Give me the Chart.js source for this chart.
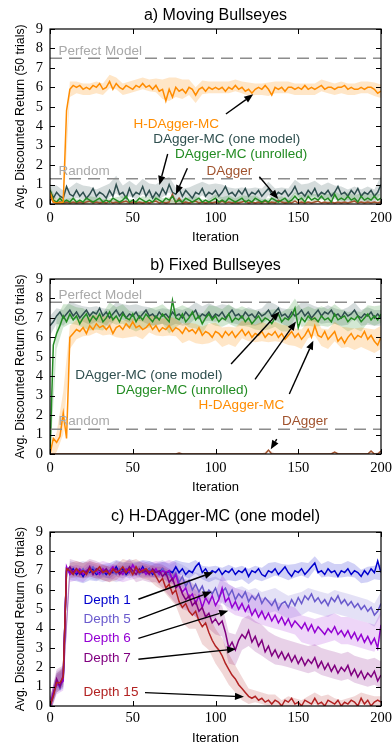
<!DOCTYPE html>
<html><head><meta charset="utf-8">
<script src="https://cdn.jsdelivr.net/npm/chart.js@4"></script>
<style>
html,body{margin:0;padding:0;background:#fff;overflow:hidden;width:392px;height:746px}
.p{position:absolute;left:0;width:392px}
</style></head><body>
<div class="p" style="top:0;height:250px"><canvas id="ca" width="392" height="250"></canvas></div>
<div class="p" style="top:250px;height:250px"><canvas id="cb" width="392" height="250"></canvas></div>
<div class="p" style="top:500px;height:246px"><canvas id="cc" width="392" height="246"></canvas></div>
<script>
// ---------- categories / ticks ----------
const iters = Array.from({length: 101}, (_, i) => 2 * i);      // iteration of each value
const bandIters = Array.from({length: 51}, (_, i) => 4 * i);   // iteration of each spread value
const xTicks = [0, 50, 100, 150, 200];
const yTicks = [0, 1, 2, 3, 4, 5, 6, 7, 8, 9];

// ---------- a) Moving Bullseyes ----------
const A_HD = [0.6,0.1,0.05,0.05,0.1,4.8,5.9,6.1,6.0,6.1,
5.9,6.0,5.9,6.1,6.0,6.2,5.9,6.0,6.3,5.9,
6.2,6.0,5.9,6.1,6.0,5.9,6.1,6.0,6.2,6.0,
6.1,5.9,6.1,5.8,5.9,5.3,5.9,5.5,6.0,5.8,
5.9,5.7,6.0,5.9,5.6,5.9,6.0,5.8,6.0,5.9,
6.0,5.9,6.0,5.8,6.0,5.9,6.1,5.9,6.0,5.8,
5.9,5.7,5.9,6.0,5.9,6.1,5.9,5.6,6.0,5.9,
6.0,5.8,6.0,6.0,5.9,6.0,5.9,6.1,5.9,6.0,
5.9,6.0,6.1,5.9,6.0,6.0,5.9,6.0,6.0,6.1,
5.9,6.0,5.9,5.9,6.0,5.9,6.0,6.0,5.9,5.7,
5.8];
const A_OM = [0.7,0.3,0.6,0.4,0.3,0.9,0.5,0.4,0.7,0.4,
0.6,0.3,0.5,0.8,0.4,0.6,0.5,0.3,0.7,0.4,
1.0,0.5,0.6,0.3,0.8,0.4,0.6,0.5,0.9,0.4,
0.7,0.3,0.6,0.4,0.8,0.5,1.0,0.6,0.5,0.8,
0.4,0.7,0.5,0.3,0.6,0.5,0.8,0.4,0.6,0.5,
0.7,0.4,0.6,0.9,0.5,0.6,0.4,0.7,0.5,0.8,
0.4,0.6,0.5,0.7,0.4,0.6,0.8,0.5,0.4,0.6,
0.5,0.7,0.4,0.6,0.9,0.5,0.6,0.4,0.7,0.5,
0.8,0.4,0.6,0.5,0.7,0.4,0.6,0.9,0.5,0.6,
0.4,0.7,0.5,0.8,0.4,0.6,0.5,0.7,0.4,0.6,
1.0];
const A_UR = [0.7,0.2,0.1,0.3,0.1,0.2,0.1,0.3,0.1,0.2,
0.1,0.3,0.2,0.1,0.2,0.3,0.1,0.2,0.1,0.3,
0.2,0.1,0.2,0.4,0.1,0.2,0.1,0.3,0.2,0.1,
0.2,0.1,0.3,0.2,0.1,0.3,0.2,0.4,0.1,0.2,
0.1,0.3,0.2,0.1,0.2,0.3,0.1,0.2,0.1,0.2,
0.3,0.1,0.2,0.1,0.3,0.2,0.1,0.2,0.3,0.1,
0.2,0.1,0.3,0.2,0.1,0.2,0.1,0.3,0.2,0.1,
0.2,0.3,0.1,0.2,0.4,0.2,0.3,0.1,0.4,0.2,
0.3,0.2,0.4,0.2,0.3,0.1,0.5,0.2,0.3,0.2,
0.4,0.2,0.3,0.1,0.4,0.2,0.3,0.2,0.4,0.2,
0.3];
const A_DG = [0.4,0.1,0.05,0.1,0.05,0.1,0.05,0.1,0.05,0.1,
0.05,0.1,0.15,0.05,0.1,0.05,0.1,0.05,0.15,0.05,
0.1,0.05,0.1,0.15,0.05,0.1,0.05,0.1,0.05,0.1,
0.05,0.1,0.15,0.05,0.1,0.05,0.1,0.5,0.05,0.3,
0.05,0.1,0.05,0.1,0.15,0.05,0.1,0.05,0.1,0.05,
0.1,0.05,0.15,0.05,0.1,0.05,0.1,0.05,0.1,0.15,
0.05,0.1,0.05,0.1,0.05,0.15,0.05,0.1,0.05,0.2,
0.1,0.05,0.1,0.05,0.15,0.05,0.1,0.05,0.1,0.05,
0.1,0.15,0.05,0.1,0.05,0.1,0.05,0.1,0.05,0.1,
0.05,0.1,0.15,0.05,0.1,0.05,0.1,0.05,0.1,0.05,
0.1];
const A_HD_sd = [0.2,0.1,0.4,0.4,0.3,0.3,0.3,0.3,0.3,0.35,
0.3,0.3,0.3,0.3,0.3,0.3,0.35,0.5,0.6,0.5,
0.5,0.4,0.4,0.35,0.3,0.3,0.3,0.3,0.3,0.3,
0.35,0.3,0.3,0.35,0.3,0.3,0.3,0.3,0.3,0.3,
0.3,0.3,0.3,0.3,0.3,0.3,0.3,0.3,0.3,0.35,
0.35];
const A_OM_sd = [0.3,0.35,0.4,0.35,0.4,0.35,0.4,0.35,0.4,0.35,
0.45,0.35,0.4,0.35,0.4,0.35,0.4,0.45,0.4,0.35,
0.4,0.35,0.4,0.35,0.4,0.35,0.4,0.35,0.4,0.35,
0.4,0.35,0.4,0.35,0.4,0.35,0.4,0.35,0.4,0.35,
0.4,0.35,0.4,0.35,0.4,0.35,0.4,0.35,0.4,0.35,
0.45];
const A_UR_sd = [0.2,0.15,0.15,0.2,0.15,0.15,0.2,0.15,0.15,0.2,
0.15,0.2,0.15,0.15,0.2,0.15,0.15,0.2,0.15,0.2,
0.15,0.15,0.2,0.15,0.15,0.2,0.15,0.15,0.2,0.15,
0.2,0.15,0.15,0.2,0.15,0.2,0.15,0.2,0.15,0.15,
0.2,0.15,0.2,0.15,0.15,0.2,0.15,0.15,0.2,0.15,
0.2];
const A_DG_sd = [0.1,0.05,0.1,0.05,0.1,0.05,0.1,0.05,0.1,0.05,
0.1,0.05,0.1,0.05,0.1,0.05,0.1,0.05,0.15,0.1,
0.1,0.05,0.1,0.05,0.1,0.05,0.1,0.05,0.1,0.05,
0.1,0.05,0.1,0.05,0.1,0.05,0.1,0.05,0.1,0.05,
0.1,0.05,0.1,0.05,0.1,0.05,0.1,0.05,0.1,0.05,
0.1];

// ---------- b) Fixed Bullseyes ----------
const B_OM = [6.6,6.8,7.1,7.3,7.0,7.2,7.4,7.1,7.3,7.0,
7.2,7.4,7.1,7.3,7.2,7.5,7.1,7.3,7.0,7.2,
7.4,7.1,7.3,7.0,7.2,7.1,7.3,7.0,7.2,7.4,
7.1,7.2,7.0,7.3,7.1,7.2,7.0,7.3,7.1,7.2,
7.0,7.3,7.1,7.2,7.4,7.0,7.2,7.1,7.3,7.0,
7.2,7.1,7.3,7.0,7.2,7.4,7.1,7.2,7.0,7.3,
7.1,7.2,7.0,7.3,7.1,7.2,7.4,7.1,7.3,7.5,
7.1,7.2,7.0,7.3,7.1,7.2,7.4,7.1,7.3,7.0,
7.2,7.4,7.1,7.3,7.2,7.4,7.1,7.2,7.0,7.3,
7.1,7.2,7.4,7.1,7.0,7.2,7.1,7.3,7.0,7.2,
7.0];
const B_UR = [0.0,5.6,6.2,6.6,7.1,6.8,7.2,6.9,7.1,6.7,
7.0,7.2,6.8,7.1,6.9,7.2,6.8,7.0,7.3,6.9,
7.1,6.8,7.2,7.0,6.9,7.2,6.8,7.1,6.9,7.2,
7.0,6.8,7.1,6.9,7.2,7.0,6.8,7.9,7.0,6.9,
7.2,6.8,7.0,7.3,6.9,7.1,6.7,7.0,7.2,6.9,
7.1,6.8,7.0,6.9,7.2,6.8,7.0,6.9,7.1,6.8,
7.0,6.7,6.9,7.1,6.8,7.0,6.9,6.7,7.0,7.2,
6.8,7.0,6.9,7.1,7.5,6.5,7.0,6.8,7.1,6.9,
7.0,6.8,7.1,6.9,7.0,6.8,7.2,6.9,7.0,7.1,
6.8,7.0,6.9,7.1,6.8,7.0,7.2,6.9,7.1,6.9,
7.2];
const B_HD = [0.0,0.8,0.6,0.9,2.1,0.8,6.0,6.2,6.4,6.3,
6.5,6.2,6.6,6.4,6.7,6.5,6.6,6.4,6.6,6.2,
6.5,6.6,6.4,6.7,6.5,6.8,6.5,6.6,6.4,6.5,
6.7,6.4,6.6,6.3,6.5,6.4,6.6,6.3,6.5,6.4,
6.2,6.5,6.3,6.4,6.2,6.5,6.1,6.3,6.2,6.0,
6.3,6.2,6.0,6.3,6.1,6.3,6.0,6.2,6.4,6.1,
6.3,6.0,6.2,6.1,6.3,6.0,6.2,6.1,6.3,6.0,
6.2,5.9,6.1,6.3,6.0,6.2,5.9,6.1,6.4,6.0,
6.6,6.1,6.0,6.3,5.9,6.1,6.3,5.8,6.0,5.7,
6.0,6.2,5.9,6.1,6.0,6.3,5.9,6.1,5.8,5.6,
6.0];
const B_DG = [0,0,0,0,0,0,0,0,0,0,
0,0,0,0,0,0,0,0,0,0,
0,0,0,0,0,0,0,0,0,0,
0,0,0,0,0,0,0,0,0,0.05,
0,0,0,0,0,0,0,0,0,0,
0,0,0,0,0,0,0,0,0,0,
0,0,0,0,0,0,0.2,0,0,0,
0,0,0,0,0,0,0,0,0,0,
0,0,0,0,0,0,0.1,0,0,0,
0,0,0,0,0,0,0,0.15,0,0,
0.15];
const B_OM_sd = [0.5,0.4,0.4,0.45,0.4,0.4,0.45,0.4,0.4,0.45,
0.4,0.4,0.45,0.4,0.4,0.45,0.4,0.4,0.45,0.4,
0.4,0.45,0.4,0.4,0.45,0.4,0.4,0.45,0.4,0.4,
0.45,0.4,0.4,0.45,0.4,0.4,0.45,0.4,0.4,0.45,
0.4,0.4,0.45,0.4,0.4,0.45,0.4,0.4,0.45,0.4,
0.4];
const B_UR_sd = [0.3,0.8,0.6,0.5,0.45,0.5,0.45,0.5,0.45,0.5,
0.45,0.5,0.45,0.5,0.45,0.5,0.45,0.5,0.6,0.5,
0.45,0.5,0.45,0.5,0.45,0.5,0.45,0.5,0.45,0.5,
0.45,0.5,0.45,0.5,0.45,0.5,0.6,0.5,0.45,0.5,
0.45,0.5,0.45,0.5,0.45,0.5,0.45,0.5,0.45,0.5,
0.45];
const B_HD_sd = [0.3,0.5,1.1,0.6,0.5,0.45,0.5,0.45,0.5,0.45,
0.5,0.45,0.5,0.45,0.5,0.45,0.5,0.45,0.5,0.45,
0.5,0.45,0.5,0.45,0.5,0.45,0.5,0.45,0.5,0.45,
0.5,0.45,0.5,0.45,0.5,0.45,0.5,0.45,0.5,0.45,
0.5,0.45,0.5,0.5,0.55,0.5,0.55,0.5,0.55,0.6,
0.6];
const B_DG_sd = [0.02,0.02,0.02,0.02,0.02,0.02,0.02,0.02,0.02,0.02,
0.02,0.02,0.02,0.02,0.02,0.02,0.02,0.02,0.02,0.02,
0.02,0.02,0.02,0.02,0.02,0.02,0.02,0.02,0.02,0.02,
0.02,0.02,0.02,0.02,0.02,0.02,0.02,0.02,0.02,0.02,
0.02,0.02,0.02,0.02,0.02,0.02,0.02,0.02,0.02,0.02,
0.02];

// ---------- c) H-DAgger-MC (one model) ----------
const C_D1 = [0.0,0.6,1.2,1.0,1.4,7.1,6.9,7.1,6.8,7.0,
6.7,7.0,6.9,7.1,6.8,6.9,7.0,6.8,7.0,6.9,
7.2,6.9,7.1,6.8,7.0,6.9,7.1,6.9,7.2,6.9,
7.1,6.8,7.0,6.9,7.1,6.8,7.0,6.9,7.2,6.9,
7.1,6.8,7.0,6.9,7.2,7.4,6.9,7.1,6.8,7.0,
6.9,7.1,6.8,7.0,6.9,7.1,6.8,7.0,6.9,7.1,
6.7,7.0,6.9,7.1,6.8,6.7,7.0,6.9,7.1,6.8,
7.0,7.2,6.9,6.7,7.0,6.9,7.1,6.8,7.0,7.2,
7.4,6.9,7.0,6.8,7.1,6.9,7.0,6.7,7.0,6.9,
7.1,6.8,7.0,6.9,6.7,7.0,6.8,7.1,6.9,7.5,
6.9];
const C_D5 = [0.0,0.5,1.3,0.9,1.5,7.0,7.1,6.8,7.0,6.9,
7.1,6.8,7.0,7.2,6.9,7.0,6.8,7.1,6.9,7.0,
6.8,7.1,6.9,7.0,7.2,6.9,7.1,6.8,7.0,6.9,
7.1,6.9,7.0,6.8,7.1,6.9,6.8,6.6,6.9,6.4,
6.7,6.2,6.5,6.0,6.3,5.9,6.2,5.7,6.0,5.8,
6.1,5.6,5.9,6.1,5.7,6.0,5.5,5.8,5.6,5.9,
5.4,5.7,5.5,5.8,5.3,5.6,5.4,5.2,5.5,5.0,
5.3,5.4,5.1,5.5,5.2,5.6,5.3,5.7,5.5,5.8,
5.4,5.6,5.3,5.5,5.2,5.6,5.4,5.7,5.3,5.5,
5.2,5.4,5.1,5.3,5.0,5.2,4.9,5.1,4.7,4.9,
5.3];
const C_D6 = [0.0,0.7,1.1,1.1,1.3,7.2,6.8,7.0,6.9,7.1,
6.8,7.0,7.1,6.9,7.0,6.8,7.1,6.9,7.0,7.2,
6.9,7.0,6.8,7.1,6.9,7.3,7.0,6.9,7.1,6.8,
7.0,6.9,7.1,6.8,7.0,6.9,7.0,6.5,6.8,6.2,
5.9,6.1,5.6,5.8,5.3,5.7,5.1,5.6,5.3,5.7,
5.2,5.5,6.1,5.4,5.6,5.1,5.4,5.0,5.3,4.9,
5.2,4.7,5.0,4.6,4.9,4.5,4.8,4.4,4.7,4.3,
4.6,4.2,4.5,4.1,4.4,4.2,4.0,4.3,3.9,4.2,
3.8,4.1,3.9,3.7,4.0,3.8,4.1,3.7,3.9,3.6,
3.9,3.5,3.8,3.4,3.7,3.3,3.6,3.2,3.5,3.0,
4.2];
const C_D7 = [0.0,0.6,1.4,1.0,1.6,7.0,7.2,6.9,7.1,6.8,
7.0,6.9,7.2,6.8,7.1,7.0,6.9,7.1,6.8,7.0,
7.1,6.8,7.0,6.9,7.2,7.0,6.8,7.1,6.9,7.0,
6.8,7.1,6.9,7.0,6.7,6.9,6.4,6.6,6.1,6.3,
5.8,5.5,5.7,5.2,5.4,4.9,5.1,4.6,4.8,4.3,
4.5,4.2,4.4,3.8,3.0,3.3,2.9,3.4,3.7,3.5,
3.9,3.3,3.6,3.1,3.4,2.8,3.1,2.6,2.9,2.5,
2.8,2.4,2.7,2.3,2.6,2.2,2.5,2.1,2.4,2.2,
2.5,2.0,2.3,1.9,2.2,1.8,2.1,1.7,2.0,1.8,
2.1,1.6,1.9,1.5,1.8,1.4,1.7,1.5,1.8,1.3,
1.6];
const C_D15 = [0.0,0.5,1.2,1.2,1.5,7.1,7.0,6.8,7.1,6.9,
7.0,6.8,7.1,6.9,7.0,7.2,6.9,7.0,6.8,7.1,
6.9,7.0,7.2,6.9,7.1,6.8,7.2,6.9,7.0,7.1,
6.9,7.0,6.7,6.4,6.6,6.1,6.3,5.8,6.0,5.4,
5.1,5.3,4.9,4.7,4.9,4.4,4.1,4.3,3.8,3.4,
3.1,2.9,2.6,2.2,1.9,1.6,1.4,1.1,0.9,0.7,
0.5,0.4,0.5,0.3,0.4,0.2,0.3,0.1,0.3,0.2,
0.0,0.3,0.2,0.4,0.1,0.2,0.0,0.3,0.2,0.1,
0.4,0.1,0.2,0.0,0.3,0.2,0.1,0.3,0.0,0.2,
0.1,0.3,0.2,0.0,0.4,0.1,0.3,0.0,0.2,0.3,
0.2];
const C_D1_sd = [0.4,0.5,0.5,0.4,0.35,0.35,0.4,0.35,0.35,0.4,
0.35,0.35,0.4,0.35,0.35,0.4,0.35,0.35,0.4,0.35,
0.35,0.4,0.35,0.35,0.4,0.35,0.35,0.4,0.35,0.35,
0.4,0.35,0.35,0.4,0.35,0.35,0.4,0.35,0.35,0.4,
0.35,0.35,0.4,0.35,0.35,0.4,0.35,0.35,0.4,0.35,
0.4];
const C_D5_sd = [0.4,0.5,0.5,0.4,0.4,0.4,0.4,0.4,0.4,0.4,
0.4,0.4,0.4,0.4,0.4,0.4,0.4,0.45,0.5,0.55,
0.6,0.6,0.6,0.6,0.6,0.6,0.6,0.6,0.6,0.6,
0.6,0.6,0.6,0.6,0.6,0.6,0.6,0.6,0.6,0.6,
0.6,0.6,0.6,0.6,0.6,0.6,0.6,0.6,0.6,0.6,
0.6];
const C_D6_sd = [0.4,0.5,0.5,0.4,0.4,0.4,0.4,0.4,0.4,0.4,
0.4,0.4,0.4,0.4,0.4,0.4,0.4,0.45,0.55,0.65,
0.7,0.7,0.7,0.7,0.7,0.7,0.7,0.7,0.7,0.7,
0.7,0.7,0.7,0.7,0.7,0.7,0.7,0.7,0.7,0.7,
0.7,0.7,0.7,0.7,0.7,0.7,0.7,0.7,0.7,0.7,
0.7];
const C_D7_sd = [0.4,0.5,0.5,0.4,0.4,0.4,0.4,0.4,0.4,0.4,
0.4,0.4,0.4,0.4,0.4,0.4,0.5,0.6,0.7,0.8,
0.8,0.8,0.8,0.8,0.8,0.8,0.8,0.8,0.8,0.8,
0.8,0.8,0.8,0.75,0.75,0.7,0.7,0.7,0.7,0.7,
0.7,0.7,0.7,0.7,0.7,0.7,0.7,0.7,0.7,0.7,
0.7];
const C_D15_sd = [0.4,0.5,0.5,0.4,0.4,0.4,0.4,0.4,0.4,0.4,
0.4,0.4,0.4,0.4,0.4,0.4,0.5,0.6,0.7,0.8,
0.8,0.9,0.9,0.9,0.9,0.9,0.9,0.8,0.7,0.6,
0.4,0.3,0.3,0.3,0.3,0.3,0.3,0.3,0.3,0.3,
0.3,0.3,0.3,0.3,0.3,0.3,0.3,0.3,0.3,0.3,
0.3];

// ---------- styles ----------
const SANS = "'Liberation Sans', Arial, Helvetica, sans-serif";
const SERIF = "'Liberation Serif', 'Times New Roman', serif";
const COL = {
  hd: ['#ff8c00', 'rgba(255,140,0,0.22)'],
  om: ['#2f4f4f', 'rgba(47,79,79,0.2)'],
  ur: ['#228b22', 'rgba(34,139,34,0.2)'],
  dg: ['#a0522d', 'rgba(160,82,45,0.2)'],
  d1: ['#0000cd', 'rgba(0,0,205,0.18)'],
  d5: ['#6a5acd', 'rgba(106,90,205,0.18)'],
  d6: ['#9400d3', 'rgba(148,0,211,0.16)'],
  d7: ['#800080', 'rgba(128,0,128,0.18)'],
  d15: ['#b22222', 'rgba(178,34,34,0.18)']
};

// ---------- panels (series listed top-most first) ----------
const PANELS = [
  { id: 'ca', title: 'a) Moving Bullseyes', titlePad: {top: 6.4, bottom: 3.4}, xAxisH: 46, xTickPad: 5.3, xTitlePadB: 5.2,
    series: [[A_HD, A_HD_sd, COL.hd], [A_UR, A_UR_sd, COL.ur], [A_DG, A_DG_sd, COL.dg], [A_OM, A_OM_sd, COL.om]],
    refs: [{v: 7.5, text: 'Perfect Model', x: 5.2, y: 7.83}, {v: 1.3, text: 'Random', x: 5.2, y: 1.66}],
    labels: [
      {text: 'H-DAgger-MC', x: 50.4, y: 4.11, c: COL.hd[0]},
      {text: 'DAgger-MC (one model)', x: 62.4, y: 3.33, c: COL.om[0]},
      {text: 'DAgger-MC (unrolled)', x: 75.6, y: 2.56, c: COL.ur[0]},
      {text: 'DAgger', x: 94.6, y: 1.66, c: COL.dg[0]}],
    arrows: [[106.3, 4.63, 122.8, 5.64], [71.1, 2.57, 66.1, 0.98], [83.0, 1.84, 76.1, 0.5], [126.5, 1.40, 137.9, 0.26]] },
  { id: 'cb', title: 'b) Fixed Bullseyes', titlePad: {top: 6.0, bottom: 3.8}, xAxisH: 46, xTickPad: 5.3, xTitlePadB: 4.4,
    series: [[B_HD, B_HD_sd, COL.hd], [B_UR, B_UR_sd, COL.ur], [B_OM, B_OM_sd, COL.om], [B_DG, B_DG_sd, COL.dg]],
    refs: [{v: 7.8, text: 'Perfect Model', x: 5.2, y: 8.18}, {v: 1.27, text: 'Random', x: 5.2, y: 1.66}],
    labels: [
      {text: 'DAgger-MC (one model)', x: 15.3, y: 4.06, c: COL.om[0]},
      {text: 'DAgger-MC (unrolled)', x: 39.9, y: 3.29, c: COL.ur[0]},
      {text: 'H-DAgger-MC', x: 89.8, y: 2.52, c: COL.hd[0]},
      {text: 'DAgger', x: 140.2, y: 1.66, c: COL.dg[0]}],
    arrows: [[109.4, 4.63, 138.6, 7.32], [123.9, 3.84, 148.6, 6.81], [144.6, 3.09, 159.1, 5.83], [137.0, 0.76, 133.4, 0.24]] },
  { id: 'cc', title: 'c) H-DAgger-MC (one model)', titlePad: {top: 7.2, bottom: 5.6}, xAxisH: 40, xTickPad: 3.3, xTitlePadB: 0.2,
    series: [[C_D15, C_D15_sd, COL.d15], [C_D7, C_D7_sd, COL.d7], [C_D6, C_D6_sd, COL.d6], [C_D5, C_D5_sd, COL.d5], [C_D1, C_D1_sd, COL.d1]],
    refs: [],
    labels: [
      {text: 'Depth 1', x: 20.3, y: 5.48, c: COL.d1[0]},
      {text: 'Depth 5', x: 20.3, y: 4.48, c: COL.d5[0]},
      {text: 'Depth 6', x: 20.3, y: 3.50, c: COL.d6[0]},
      {text: 'Depth 7', x: 20.3, y: 2.47, c: COL.d7[0]},
      {text: 'Depth 15', x: 20.3, y: 0.69, c: COL.d15[0]}],
    arrows: [[53.4, 5.52, 98.7, 6.92], [53.4, 4.49, 97.7, 5.91], [53.4, 3.50, 107.7, 4.93], [53.4, 2.42, 112.4, 2.95], [57.4, 0.69, 117.2, 0.48]] }
];

function drawArrow(ctx, x1, y1, x2, y2) {
  const a = Math.atan2(y2 - y1, x2 - x1);
  const hl = 9, hw = 3.6;
  const bx = x2 - hl * Math.cos(a), by = y2 - hl * Math.sin(a);
  ctx.beginPath(); ctx.moveTo(x1, y1); ctx.lineTo(bx, by); ctx.stroke();
  ctx.beginPath(); ctx.moveTo(x2, y2);
  ctx.lineTo(bx - hw * Math.sin(a), by + hw * Math.cos(a));
  ctx.lineTo(bx + hw * Math.sin(a), by - hw * Math.cos(a));
  ctx.closePath(); ctx.fill();
}

function decorPlugin(p) {
  return {
    id: 'decor',
    afterDatasetsDraw(chart) {
      const {ctx, chartArea: ca, scales: {x, y}} = chart;
      ctx.save();
      ctx.beginPath(); ctx.rect(ca.left, ca.top, ca.width, ca.height); ctx.clip();
      // reference lines
      p.refs.forEach(r => {
        const py = y.getPixelForValue(r.v);
        ctx.strokeStyle = '#8c8c8c'; ctx.lineWidth = 1.5; ctx.setLineDash([12, 7]);
        ctx.beginPath(); ctx.moveTo(ca.left, py); ctx.lineTo(ca.right, py); ctx.stroke();
        ctx.setLineDash([]);
        ctx.fillStyle = '#a9a9a9'; ctx.font = '13.5px ' + SANS; ctx.textAlign = 'left'; ctx.textBaseline = 'middle';
        ctx.fillText(r.text, x.getPixelForValue(r.x), y.getPixelForValue(r.y));
      });
      ctx.restore();
      ctx.save();
      // labels
      ctx.font = '13.5px ' + SANS; ctx.textAlign = 'left'; ctx.textBaseline = 'middle';
      p.labels.forEach(l => { ctx.fillStyle = l.c; ctx.fillText(l.text, x.getPixelForValue(l.x), y.getPixelForValue(l.y)); });
      // arrows
      ctx.strokeStyle = '#000'; ctx.fillStyle = '#000'; ctx.lineWidth = 1.4;
      p.arrows.forEach(a => drawArrow(ctx, x.getPixelForValue(a[0]), y.getPixelForValue(a[1]), x.getPixelForValue(a[2]), y.getPixelForValue(a[3])));
      ctx.restore();
    },
    afterDraw(chart) {
      const {ctx, chartArea: ca, scales: {x, y}} = chart;
      ctx.save();
      ctx.strokeStyle = '#000'; ctx.lineWidth = 1;
      const tl = 5;
      ctx.beginPath();
      yTicks.forEach(v => {
        const py = Math.round(y.getPixelForValue(v)) + 0.5;
        ctx.moveTo(ca.left, py); ctx.lineTo(ca.left + tl, py);
        ctx.moveTo(ca.right, py); ctx.lineTo(ca.right - tl, py);
      });
      xTicks.forEach(v => {
        const px = Math.round(x.getPixelForValue(v)) + 0.5;
        ctx.moveTo(px, ca.bottom); ctx.lineTo(px, ca.bottom - tl);
        ctx.moveTo(px, ca.top); ctx.lineTo(px, ca.top + tl);
      });
      ctx.stroke();
      ctx.lineWidth = 1.2;
      ctx.strokeRect(ca.left, ca.top, ca.right - ca.left, ca.bottom - ca.top);
      ctx.restore();
    }
  };
}

function build(p) {
  const datasets = [];
  p.series.forEach(([vals, , col]) => {
    datasets.push({ data: iters.map((it, i) => ({x: it, y: vals[i]})), borderColor: col[0], borderWidth: 1.5,
      pointRadius: 0, fill: false, tension: 0, order: 1 });
  });
  p.series.forEach(([vals, sd, col]) => {
    const lo = bandIters.map((it, j) => ({x: it, y: vals[iters.indexOf(it)] - sd[j]}));
    const hi = bandIters.map((it, j) => ({x: it, y: vals[iters.indexOf(it)] + sd[j]}));
    datasets.push({ data: lo, borderWidth: 0, borderColor: 'rgba(0,0,0,0)', pointRadius: 0, fill: false, order: 2 });
    datasets.push({ data: hi, borderWidth: 0, borderColor: 'rgba(0,0,0,0)', pointRadius: 0, fill: '-1', backgroundColor: col[1], order: 2 });
  });
  new Chart(document.getElementById(p.id), {
    type: 'line',
    data: { datasets },
    options: {
      responsive: false, animation: false, events: [],
      layout: { padding: 0 },
      plugins: {
        legend: { display: false }, tooltip: { enabled: false },
        title: { display: true, text: p.title, fullSize: false, color: '#000',
          font: { family: SANS, size: 16, weight: 'normal', lineHeight: 1.2 }, padding: p.titlePad }
      },
      scales: {
        x: { type: 'linear', min: 0, max: 200,
          border: { display: false }, grid: { display: false, drawTicks: false, tickLength: 0 },
          ticks: { stepSize: 50, padding: p.xTickPad, color: '#000', maxRotation: 0, autoSkip: false,
            font: { family: SERIF, size: 14.5, lineHeight: 1.2 } },
          title: { display: true, text: 'Iteration', color: '#000', font: { family: SANS, size: 13, lineHeight: 1.2 },
            padding: { top: 0, bottom: p.xTitlePadB } },
          afterFit(s) { s.height = p.xAxisH; s.paddingRight = 11; s.paddingLeft = 0; } },
        y: { type: 'linear', min: 0, max: 9,
          border: { display: false }, grid: { display: false, drawTicks: false, tickLength: 0 },
          ticks: { stepSize: 1, padding: 7, color: '#000', autoSkip: false, font: { family: SERIF, size: 14.5 } },
          title: { display: true, text: 'Avg. Discounted Return (50 trials)', color: '#000',
            font: { family: SANS, size: 12.3, lineHeight: 1.2 }, padding: { top: 13.6, bottom: 0 } },
          afterFit(s) { s.width = 50; } }
      }
    },
    plugins: [decorPlugin(p)]
  });
}
PANELS.forEach(build);
</script>
</body></html>
